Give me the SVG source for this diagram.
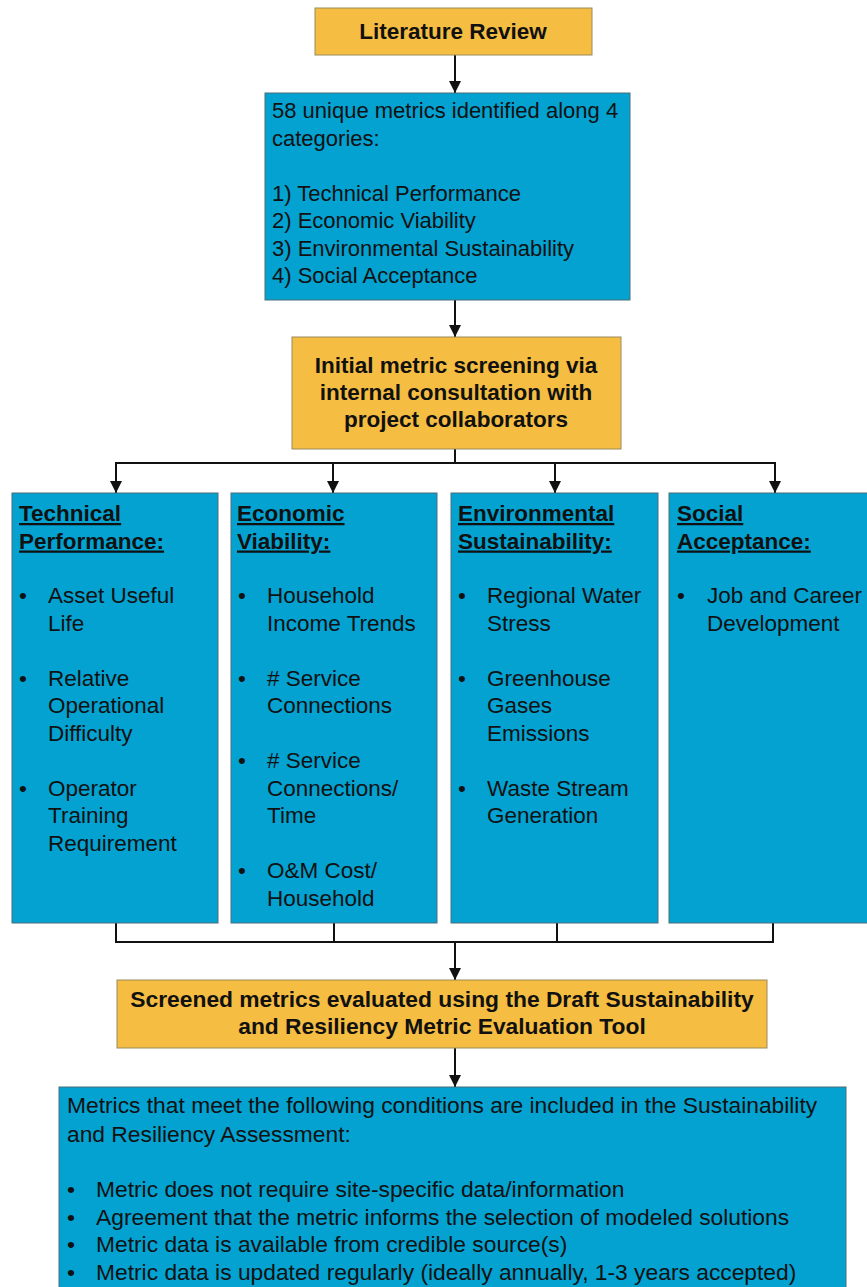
<svg xmlns="http://www.w3.org/2000/svg" width="867" height="1287" viewBox="0 0 867 1287">
<defs>
<style>
.y{fill:#F5BD41;stroke:#9a8a5a;stroke-width:1}
.b{fill:#03A2D1;stroke:#4a6f7a;stroke-width:1}
text{font-family:"Liberation Sans",Arial,sans-serif;font-size:22.5px;fill:#111}
.bd{font-weight:bold}
.c{text-anchor:middle}
.u{text-decoration:underline}
.s22{font-size:22px}
.s23{font-size:22.8px}
.ln{fill:none;stroke:#111;stroke-width:2}
</style>
<marker id="ah" viewBox="0 0 10 10" refX="10" refY="5" markerWidth="6" markerHeight="6" markerUnits="strokeWidth" orient="auto">
<path d="M0,0 L10,5 L0,10 z" fill="#111"/>
</marker>
</defs>
<g id="connectors">
<line class="ln" x1="455" y1="55" x2="455" y2="93" marker-end="url(#ah)"/>
<line class="ln" x1="455" y1="300" x2="455" y2="337" marker-end="url(#ah)"/>
<polyline class="ln" points="455,449 455,463"/>
<line class="ln" x1="115" y1="463" x2="776" y2="463"/>
<line class="ln" x1="116" y1="463" x2="116" y2="493" marker-end="url(#ah)"/>
<line class="ln" x1="333" y1="463" x2="333" y2="493" marker-end="url(#ah)"/>
<line class="ln" x1="555" y1="463" x2="555" y2="493" marker-end="url(#ah)"/>
<line class="ln" x1="775" y1="463" x2="775" y2="493" marker-end="url(#ah)"/>
<polyline class="ln" points="116,923 116,942 773,942 773,923"/>
<line class="ln" x1="334" y1="923" x2="334" y2="942"/>
<line class="ln" x1="557" y1="923" x2="557" y2="942"/>
<line class="ln" x1="455" y1="942" x2="455" y2="980" marker-end="url(#ah)"/>
<line class="ln" x1="455" y1="1048" x2="455" y2="1087" marker-end="url(#ah)"/>
</g>
<g id="lit">
<rect class="y" x="315" y="8" width="277" height="47"/>
<text class="bd c" x="453" y="39">Literature Review</text>
</g>
<g id="metrics58">
<rect class="b" x="265" y="93" width="365" height="207"/>
<text class="s22" x="272" y="118">58 unique metrics identified along 4</text>
<text class="s22" x="272" y="145.5">categories:</text>
<text class="s22" x="272" y="200.5">1) Technical Performance</text>
<text class="s22" x="272" y="228">2) Economic Viability</text>
<text class="s22" x="272" y="255.5">3) Environmental Sustainability</text>
<text class="s22" x="272" y="283">4) Social Acceptance</text>
</g>
<g id="screening">
<rect class="y" x="292" y="337" width="329" height="112"/>
<text class="bd c" x="456" y="373">Initial metric screening via</text>
<text class="bd c" x="456" y="400">internal consultation with</text>
<text class="bd c" x="456" y="427">project collaborators</text>
</g>
<g id="technical">
<rect class="b" x="12" y="493" width="206" height="430"/>
<text class="bd u" x="19" y="521">Technical</text>
<text class="bd u" x="19" y="548.5">Performance:</text>
<text x="19" y="603">•</text><text x="48" y="603">Asset Useful</text>
<text x="48" y="630.5">Life</text>
<text x="19" y="685.5">•</text><text x="48" y="685.5">Relative</text>
<text x="48" y="713">Operational</text>
<text x="48" y="740.5">Difficulty</text>
<text x="19" y="795.5">•</text><text x="48" y="795.5">Operator</text>
<text x="48" y="823">Training</text>
<text x="48" y="850.5">Requirement</text>
</g>
<g id="economic">
<rect class="b" x="231" y="493" width="206" height="430"/>
<text class="bd u" x="237" y="521">Economic</text>
<text class="bd u" x="237" y="548.5">Viability:</text>
<text x="238" y="603">•</text><text x="267" y="603">Household</text>
<text x="267" y="630.5">Income Trends</text>
<text x="238" y="685.5">•</text><text x="267" y="685.5"># Service</text>
<text x="267" y="713">Connections</text>
<text x="238" y="768">•</text><text x="267" y="768"># Service</text>
<text x="267" y="795.5">Connections/</text>
<text x="267" y="823">Time</text>
<text x="238" y="878">•</text><text x="267" y="878">O&amp;M Cost/</text>
<text x="267" y="905.5">Household</text>
</g>
<g id="environmental">
<rect class="b" x="451" y="493" width="207" height="430"/>
<text class="bd u" x="458" y="521">Environmental</text>
<text class="bd u" x="458" y="548.5">Sustainability:</text>
<text x="458" y="603">•</text><text x="487" y="603">Regional Water</text>
<text x="487" y="630.5">Stress</text>
<text x="458" y="685.5">•</text><text x="487" y="685.5">Greenhouse</text>
<text x="487" y="713">Gases</text>
<text x="487" y="740.5">Emissions</text>
<text x="458" y="795.5">•</text><text x="487" y="795.5">Waste Stream</text>
<text x="487" y="823">Generation</text>
</g>
<g id="social">
<rect class="b" x="669" y="493" width="210" height="430"/>
<text class="bd u" x="677" y="521">Social</text>
<text class="bd u" x="677" y="548.5">Acceptance:</text>
<text x="677" y="603">•</text><text x="707" y="603">Job and Career</text>
<text x="707" y="630.5">Development</text>
</g>
<g id="evaluated">
<rect class="y" x="117" y="980" width="650" height="68"/>
<text class="bd c s23" x="442" y="1007">Screened metrics evaluated using the Draft Sustainability</text>
<text class="bd c s23" x="442" y="1034">and Resiliency Metric Evaluation Tool</text>
</g>
<g id="conditions">
<rect class="b" x="59" y="1087" width="787" height="210"/>
<text class="s23" x="67" y="1113">Metrics that meet the following conditions are included in the Sustainability</text>
<text class="s23" x="67" y="1142">and Resiliency Assessment:</text>
<text class="s23" x="67" y="1197">•</text><text class="s23" x="96" y="1197">Metric does not require site-specific data/information</text>
<text class="s23" x="67" y="1224.5">•</text><text class="s23" x="96" y="1224.5">Agreement that the metric informs the selection of modeled solutions</text>
<text class="s23" x="67" y="1252">•</text><text class="s23" x="96" y="1252">Metric data is available from credible source(s)</text>
<text class="s23" x="67" y="1279.5">•</text><text class="s23" x="96" y="1279.5">Metric data is updated regularly (ideally annually, 1-3 years accepted)</text>
</g>
</svg>
